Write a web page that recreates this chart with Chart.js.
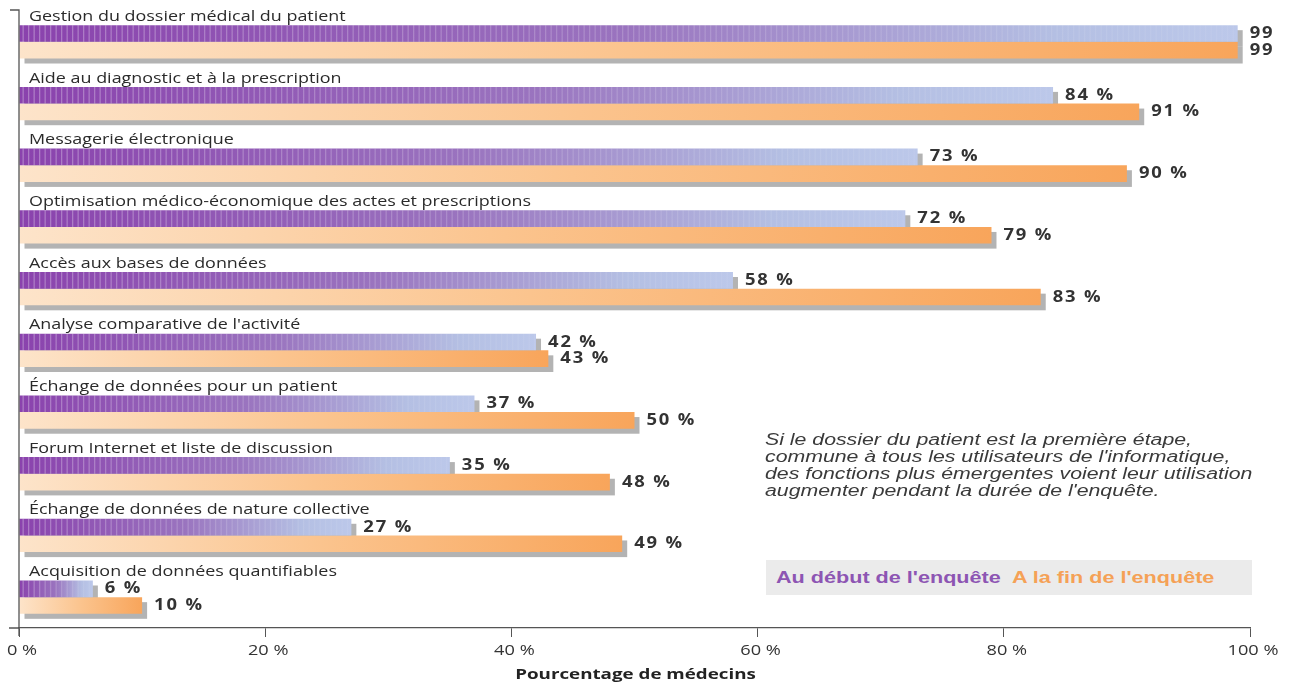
<!DOCTYPE html>
<html>
<head>
<meta charset="utf-8">
<script src="https://cdn.jsdelivr.net/npm/chart.js@4/dist/chart.umd.min.js"></script>
<style>
    html, body { margin: 0; padding: 0; background: #fff; }
    #wrap { position: relative; width: 1297px; height: 686px; }
    #note {
        position: absolute; left: 765px; top: 431px;
        font: italic 16px "Liberation Sans", Arial, sans-serif;
        line-height: 17px; color: #3a3a3a;
        transform: scaleX(1.33); transform-origin: 0 0;
    }
    #legend {
        position: absolute; left: 766px; top: 560px; width: 486px; height: 35px;
        background: #ebebeb;
        font: bold 16px "Liberation Sans", Arial, sans-serif;
        line-height: 35px;
    }
    #legend span { position: absolute; transform: scaleX(1.35); transform-origin: 0 0; }
    #legend .a { left: 10px; color: #8d55b3; }
    #legend .b { left: 246px; color: #f5a156; }
</style>
</head>
<body>
<div id="wrap">
    <canvas id="chartUsage" width="1297" height="686"></canvas>
    <div id="note">Si le dossier du patient est la première étape,<br>commune à tous les utilisateurs de l'informatique,<br>des fonctions plus émergentes voient leur utilisation<br>augmenter pendant la durée de l'enquête.</div>
    <div id="legend"><span class="a">Au début de l'enquête</span><span class="b">A la fin de l'enquête</span></div>
</div>
<script>
const categories = [
    'Gestion du dossier médical du patient',
    'Aide au diagnostic et à la prescription',
    'Messagerie électronique',
    'Optimisation médico-économique des actes et prescriptions',
    'Accès aux bases de données',
    "Analyse comparative de l'activité",
    'Échange de données pour un patient',
    'Forum Internet et liste de discussion',
    'Échange de données de nature collective',
    'Acquisition de données quantifiables'
];
const debutValues = [99, 84, 73, 72, 58, 42, 37, 35, 27, 6];
const finValues = [99, 91, 90, 79, 83, 43, 50, 48, 49, 10];
const debutLabels = ['99', '84 %', '73 %', '72 %', '58 %', '42 %', '37 %', '35 %', '27 %', '6 %'];
const finLabels = ['99', '91 %', '90 %', '79 %', '83 %', '43 %', '50 %', '48 %', '49 %', '10 %'];
const xTicks = [0, 20, 40, 60, 80, 100];
const axisTitle = 'Pourcentage de médecins';

function barFill(stops) {
    return function (c) {
        const chart = c.chart;
        if (!chart.chartArea) return stops[0][1];
        const x0 = chart.scales.x.getPixelForValue(0);
        const x1 = chart.scales.x.getPixelForValue(c.raw);
        const g = chart.ctx.createLinearGradient(x0, 0, Math.max(x1, x0 + 1), 0);
        stops.forEach(s => g.addColorStop(s[0], s[1]));
        return g;
    };
}

// the original artwork is stretched sideways, so text is widened too
function wideText(ctx, text, x, y, sx, align) {
    ctx.save();
    const w = align === 'center' ? ctx.measureText(text).width * sx : 0;
    ctx.translate(x - w / 2, y);
    ctx.scale(sx, 1);
    ctx.fillText(text, 0, 0);
    ctx.restore();
}

const decorPlugin = {
    id: 'decor',
    beforeDatasetsDraw(chart) {
        const ctx = chart.ctx;
        ctx.save();
        ctx.fillStyle = '#b3b3b3';
        chart.data.datasets.forEach((ds, di) => {
            chart.getDatasetMeta(di).data.forEach(bar => {
                const h = bar.height;
                ctx.fillRect(bar.base + 5, bar.y - h / 2 + 5, bar.x - bar.base, h);
            });
        });
        ctx.restore();
    },
    afterDatasetsDraw(chart) {
        const ctx = chart.ctx;
        const area = chart.chartArea;
        const xScale = chart.scales.x;
        const yScale = chart.scales.y;
        ctx.save();

        // stripes on the purple bars
        chart.getDatasetMeta(0).data.forEach(bar => {
            const h = bar.height;
            const w = bar.x - bar.base;
            for (let x = bar.base + 3; x < bar.x - 1; x += 5.5) {
                const t = (x - bar.base) / w;
                ctx.fillStyle = 'rgba(255,255,255,' + (0.3 * (1 - 0.8 * t)).toFixed(3) + ')';
                ctx.fillRect(x, bar.y - h / 2, 1.3, h);
            }
        });

        ctx.textBaseline = 'middle';
        ctx.textAlign = 'left';

        // category titles above each pair
        ctx.fillStyle = '#2a2a2a';
        ctx.font = '14px "Open Sans", sans-serif';
        categories.forEach((name, i) => {
            const y = yScale.getPixelForValue(i);
            wideText(ctx, name, area.left + 10, y - 25, 1.28);
        });

        // value labels
        ctx.font = 'bold 16px "Open Sans", sans-serif';
        ctx.fillStyle = '#333';
        [debutLabels, finLabels].forEach((labels, di) => {
            chart.getDatasetMeta(di).data.forEach((bar, i) => {
                wideText(ctx, labels[i].split('').join(String.fromCharCode(8202)), bar.x + 12, bar.y, 1.15);
            });
        });

        // x tick labels
        ctx.font = '14px "Open Sans", sans-serif';
        ctx.fillStyle = '#333';
        xTicks.forEach(v => {
            wideText(ctx, v + ' %', xScale.getPixelForValue(v) + 3, 651, 1.3, 'center');
        });

        // axis title
        ctx.font = 'bold 14px "Open Sans", sans-serif';
        ctx.fillStyle = '#222';
        wideText(ctx, axisTitle, (area.left + area.right) / 2 + 1, 675, 1.34, 'center');

        // left axis line with top tick
        ctx.strokeStyle = '#555';
        ctx.lineWidth = 1.3;
        ctx.beginPath();
        ctx.moveTo(area.left - 9, 10);
        ctx.lineTo(area.left, 10);
        ctx.lineTo(area.left, area.bottom + 8);
        ctx.moveTo(area.left - 10, area.bottom);
        ctx.lineTo(area.left, area.bottom);
        ctx.stroke();
        ctx.restore();
    }
};

new Chart(document.getElementById('chartUsage'), {
    type: 'bar',
    data: {
        labels: categories,
        datasets: [{
            label: "Au début de l'enquête",
            data: debutValues,
            backgroundColor: barFill([[0, '#8a42ad'], [0.5, '#9a74bf'], [0.85, '#b4bfe3'], [1, '#bcc8ea']]),
            categoryPercentage: 0.54,
            barPercentage: 1
        }, {
            label: "A la fin de l'enquête",
            data: finValues,
            backgroundColor: barFill([[0, '#fde4ca'], [0.5, '#fbc48e'], [1, '#f8a55b']]),
            categoryPercentage: 0.54,
            barPercentage: 1
        }]
    },
    plugins: [decorPlugin],
    options: {
        indexAxis: 'y',
        responsive: false,
        animation: false,
        layout: { padding: { left: 19, right: 47, top: 11, bottom: 0 } },
        plugins: {
            legend: { display: false },
            tooltip: { enabled: false }
        },
        scales: {
            y: { display: false },
            x: {
                min: 0,
                max: 100,
                afterBuildTicks(scale) { scale.ticks = xTicks.map(v => ({ value: v })); },
                afterFit(scale) { scale.height = 58; },
                border: { display: true, color: '#555', width: 1.3 },
                grid: { drawOnChartArea: false, drawTicks: true, tickLength: 9, color: '#555' },
                ticks: { display: false }
            }
        }
    }
});
</script>
</body>
</html>
